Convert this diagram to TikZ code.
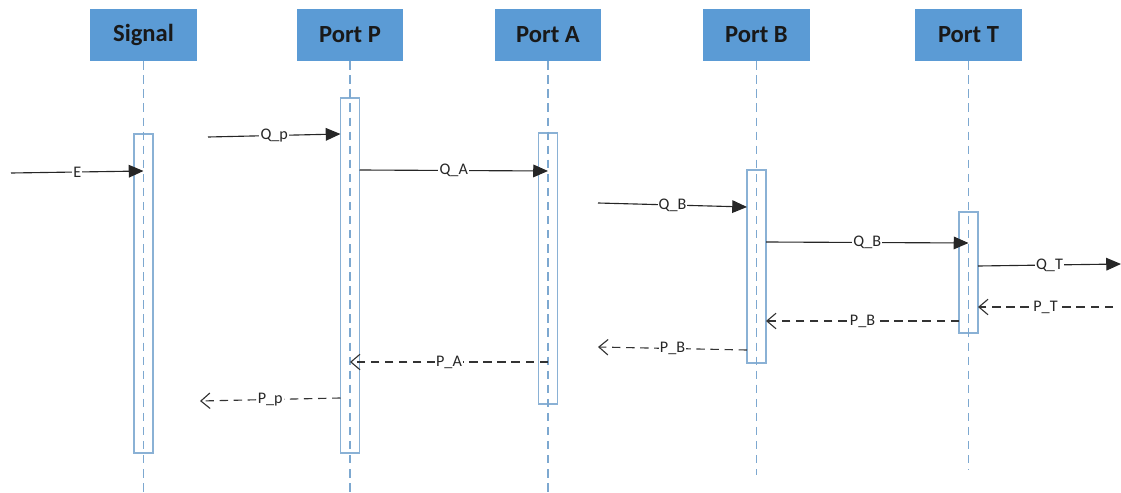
\documentclass[tikz,border=0pt]{standalone}
\usepackage{fontspec}
\setmainfont{Carlito}
\usetikzlibrary{arrows.meta}

\definecolor{headblue}{RGB}{91,155,213}
\definecolor{lineblue}{RGB}{125,168,208}

\tikzset{
  head/.style={fill=headblue, text=black!90, font=\fontsize{17.5}{20}\selectfont\bfseries,
    minimum width=2.65cm, minimum height=1.3cm, inner sep=0pt},
  life/.style={draw=lineblue, line width=0.75pt, dash pattern=on 6pt off 4pt},
  bar/.style={draw=lineblue!90, line width=0.75pt},
  call/.style={draw=black!85, line width=0.8pt, -{Triangle[length=10.5pt,width=9pt]}},
  reply/.style={draw=black!80, line width=0.8pt, dash pattern=on 6pt off 4pt,
    -{Straight Barb[length=6.5pt,width=11pt]}},
  lbl/.style={fill=white, inner sep=0.8pt, font=\fontsize{11.5}{12}\selectfont, text=black!85},
}

\begin{document}
\begin{tikzpicture}[x=0.025cm, y=-0.025cm]
  \useasboundingbox (0,0) rectangle (1121,493);

  % port heads
  \node[head] (sig)   at (143.5,35) {Signal};
  \node[head] (portP) at (350,35)   {Port P};
  \node[head] (portA) at (548,35)   {Port A};
  \node[head] (portB) at (756.5,35) {Port B};
  \node[head] (portT) at (968.5,35) {Port T};

  % activation bars, then the lifelines through them
  \foreach \n/\x/\t/\b/\e in {sig/143.5/134/453/493, portP/350/98/453/493,
      portA/548/133/404/493, portB/756.5/170/363/475, portT/968.5/212/333/470}{
    \draw[bar] (\x-9.5,\t) rectangle (\x+9.5,\b);
    \draw[life] (\n.south) -- (\x,\e);
  }

  % message ends
  \coordinate (e0)  at (11,173);   \coordinate (e1)  at (143.5,171);
  \coordinate (qp0) at (208,137);  \coordinate (qp1) at (340.5,134);
  \coordinate (qa0) at (359.5,170);\coordinate (qa1) at (548,171);
  \coordinate (qb0) at (598,203);  \coordinate (qb1) at (747,207);
  \coordinate (qb2) at (766,242);  \coordinate (qb3) at (968.5,243);
  \coordinate (qt0) at (978,266);  \coordinate (qt1) at (1121,264);
  \coordinate (pt0) at (1113,307); \coordinate (pt1) at (978,307);
  \coordinate (pb0) at (959,321);  \coordinate (pb1) at (766,321);
  \coordinate (pb2) at (747,350);  \coordinate (pb3) at (598,347);
  \coordinate (pa0) at (548,362);  \coordinate (pa1) at (350,362);
  \coordinate (pp0) at (340.5,398);\coordinate (pp1) at (200,401);

  % flows
  \foreach \a/\b/\t in {e0/e1/E, qp0/qp1/Q\_p, qa0/qa1/Q\_A, qb0/qb1/Q\_B,
      qb2/qb3/Q\_B, qt0/qt1/Q\_T}
    \draw[call] (\a) -- node[lbl] {\t} (\b);

  % pressures
  \foreach \a/\b/\t in {pt0/pt1/P\_T, pb0/pb1/P\_B, pb2/pb3/P\_B,
      pa0/pa1/P\_A, pp0/pp1/P\_p}
    \draw[reply] (\a) -- node[lbl] {\t} (\b);
\end{tikzpicture}
\end{document}
